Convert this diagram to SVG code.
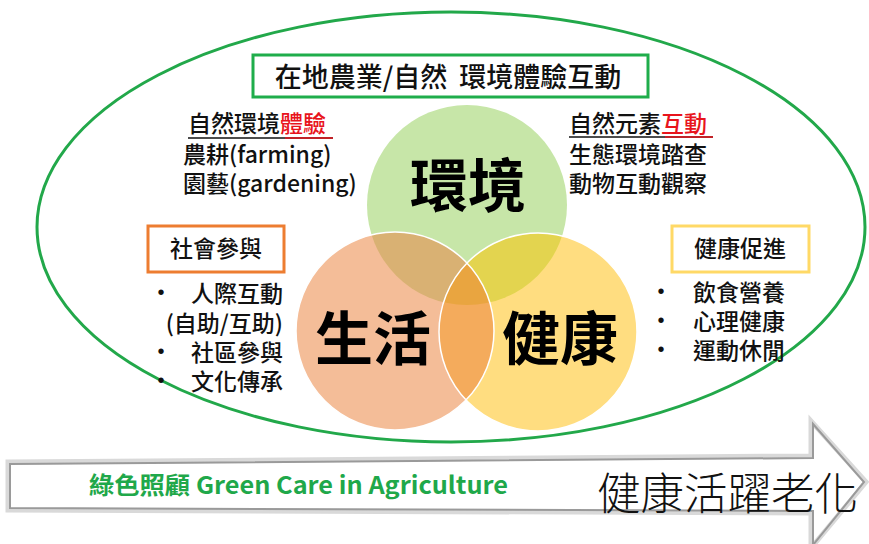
<svg xmlns="http://www.w3.org/2000/svg" width="869" height="544" viewBox="0 0 869 544">
<style>
.t{font-family:"Noto Sans CJK TC","Noto Sans",sans-serif;fill:#111}
.side{font-size:23px;font-weight:500}
.big{font-size:58px;font-weight:bold;text-anchor:middle;fill:#000}
.red{fill:#e8141c}
.box{fill:#fff;stroke-width:3}
.dot{font-family:"Liberation Sans",sans-serif;font-size:20px;text-anchor:middle;fill:#111}
</style>
<defs>
<clipPath id="cG"><circle cx="467" cy="205" r="100"/></clipPath>
<clipPath id="cO"><circle cx="395" cy="331" r="99"/></clipPath>
</defs>
<rect width="869" height="544" fill="#fff"/>

<g id="outer">
<ellipse cx="451" cy="227" rx="414" ry="215" fill="none" stroke="#22a84a" stroke-width="3"/>
</g>

<g id="venn">
<circle id="c-env" cx="467" cy="205" r="100" fill="#c7e6a8"/>
<circle id="c-life" cx="395" cy="331" r="99" fill="#f4bd98"/>
<circle id="c-health" cx="538" cy="332" r="99" fill="#ffdd80"/>
<circle cx="395" cy="331" r="99" fill="#d9b173" clip-path="url(#cG)"/>
<circle cx="538" cy="332" r="99" fill="#e3d44f" clip-path="url(#cG)"/>
<circle cx="538" cy="332" r="99" fill="#f4ab5c" clip-path="url(#cO)"/>
<g clip-path="url(#cG)"><circle cx="538" cy="332" r="99" fill="#e9a540" clip-path="url(#cO)"/></g>
<circle cx="395" cy="331" r="99" fill="none" stroke="#fff" stroke-width="1.5"/>
<circle cx="538" cy="332" r="99" fill="none" stroke="#fff" stroke-width="1.5"/>
<text class="t big" x="468" y="207">環境</text>
<text class="t big" x="373" y="360">生活</text>
<text class="t big" x="560" y="360">健康</text>
</g>

<g id="title">
<rect class="box" x="253" y="55" width="395" height="42" stroke="#1fad4b"/>
<text class="t" x="448" y="87" font-size="27" font-weight="500" text-anchor="middle" xml:space="preserve">在地農業/自然  環境體驗互動</text>
</g>

<g id="env-left">
<text class="t side" x="188" y="132">自然環境<tspan class="red">體驗</tspan></text>
<line x1="188" y1="138" x2="333" y2="138" stroke="#111" stroke-width="1.5"/>
<line x1="285" y1="138" x2="333" y2="138" stroke="#e8141c" stroke-width="1.5"/>
<text class="t side" x="183" y="163">農耕(farming)</text>
<text class="t side" x="183" y="192">園藝(gardening)</text>
</g>

<g id="env-right">
<text class="t side" x="569" y="132">自然元素<tspan class="red">互動</tspan></text>
<line x1="569" y1="137" x2="713" y2="137" stroke="#111" stroke-width="1.5"/>
<line x1="665" y1="137" x2="713" y2="137" stroke="#e8141c" stroke-width="1.5"/>
<text class="t side" x="569" y="163">生態環境踏查</text>
<text class="t side" x="569" y="192">動物互動觀察</text>
</g>

<g id="social">
<rect class="box" x="148" y="226" width="136" height="46" stroke="#ed7d31"/>
<text class="t side" x="216" y="257" text-anchor="middle">社會參與</text>
<text class="dot" x="161" y="299">•</text>
<text class="dot" x="161" y="358">•</text>
<text class="dot" x="161" y="387">•</text>
<g class="t side" text-anchor="end">
<text x="283" y="302">人際互動</text>
<text x="283" y="332">(自助/互助)</text>
<text x="283" y="361">社區參與</text>
<text x="283" y="390">文化傳承</text>
</g>
</g>

<g id="healthbox">
<rect class="box" x="672" y="226" width="137" height="46" stroke="#ffd966"/>
<text class="t side" x="740" y="257" text-anchor="middle">健康促進</text>
<text class="dot" x="661" y="298">•</text>
<text class="dot" x="661" y="327">•</text>
<text class="dot" x="661" y="356">•</text>
<g class="t side">
<text x="693" y="301">飲食營養</text>
<text x="693" y="330">心理健康</text>
<text x="693" y="359">運動休閒</text>
</g>
</g>

<g id="arrow">
<polygon points="8,462 811,456 811,421 866,482 811,548 811,513 8,510" fill="#fff" stroke="#d9d9d9" stroke-width="5" stroke-linejoin="miter"/>
<polygon points="10,464 813,458 813,424 864,482 813,545 813,511 10,508" fill="none" stroke="#9a9a9a" stroke-width="2"/>
<text class="t" x="89" y="494" font-size="24" font-weight="bold" style="fill:#1fa84a" textLength="419" lengthAdjust="spacingAndGlyphs">綠色照顧 Green Care in Agriculture</text>
<text class="t" x="597" y="510" font-size="44" font-weight="300" textLength="261" lengthAdjust="spacingAndGlyphs">健康活躍老化</text>
</g>
</svg>
